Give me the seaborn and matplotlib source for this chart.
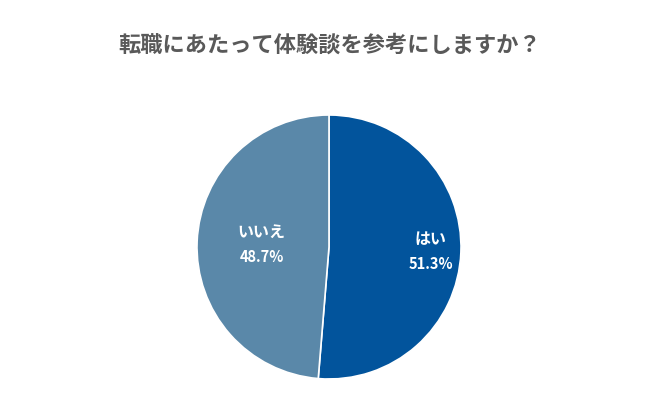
import numpy as np
import matplotlib
matplotlib.use("Agg")
import matplotlib.pyplot as plt
import seaborn as sns

title = "転職にあたって体験談を参考にしますか？"
categories = ["はい", "いいえ"]
values = [51.3, 48.7]
colors = ["#02549C", "#5A88A9"]
label_dist = [0.77, 0.51]

sns.set_theme(style="white")
plt.rcParams['font.family'] = ['Noto Sans CJK JP', 'DejaVu Sans']

fig = plt.figure(figsize=(6.6, 3.97), dpi=100)
fig.patch.set_facecolor("white")
W, H = 660, 397
cx, cy, r = 329, 247, 132
ax = fig.add_axes([(cx - r) / W, (H - cy - r) / H, 2 * r / W, 2 * r / H])
wedges, _ = ax.pie(values, colors=colors, startangle=90, counterclock=False,
                   wedgeprops=dict(edgecolor="white", linewidth=1.2))
ax.set_xlim(-1, 1)
ax.set_ylim(-1, 1)
ax.set_aspect("equal")
ax.axis("off")

for w, cat, v, d in zip(wedges, categories, values, label_dist):
    ang = np.deg2rad((w.theta1 + w.theta2) / 2)
    x, y = d * np.cos(ang), d * np.sin(ang)
    ax.text(x, y + 0.095, cat, ha="center", va="center", color="white",
            fontsize=11.5, fontweight="bold")
    ax.text(x, y - 0.095, f"{v:.1f}%", ha="center", va="center", color="white",
            fontsize=10.5, fontweight="bold")

fig.text(0.5, 1 - 45 / H, title, ha="center", va="center", color="#595959",
         fontsize=16, fontweight="bold")

fig.savefig("out.png", dpi=100, facecolor="white")
